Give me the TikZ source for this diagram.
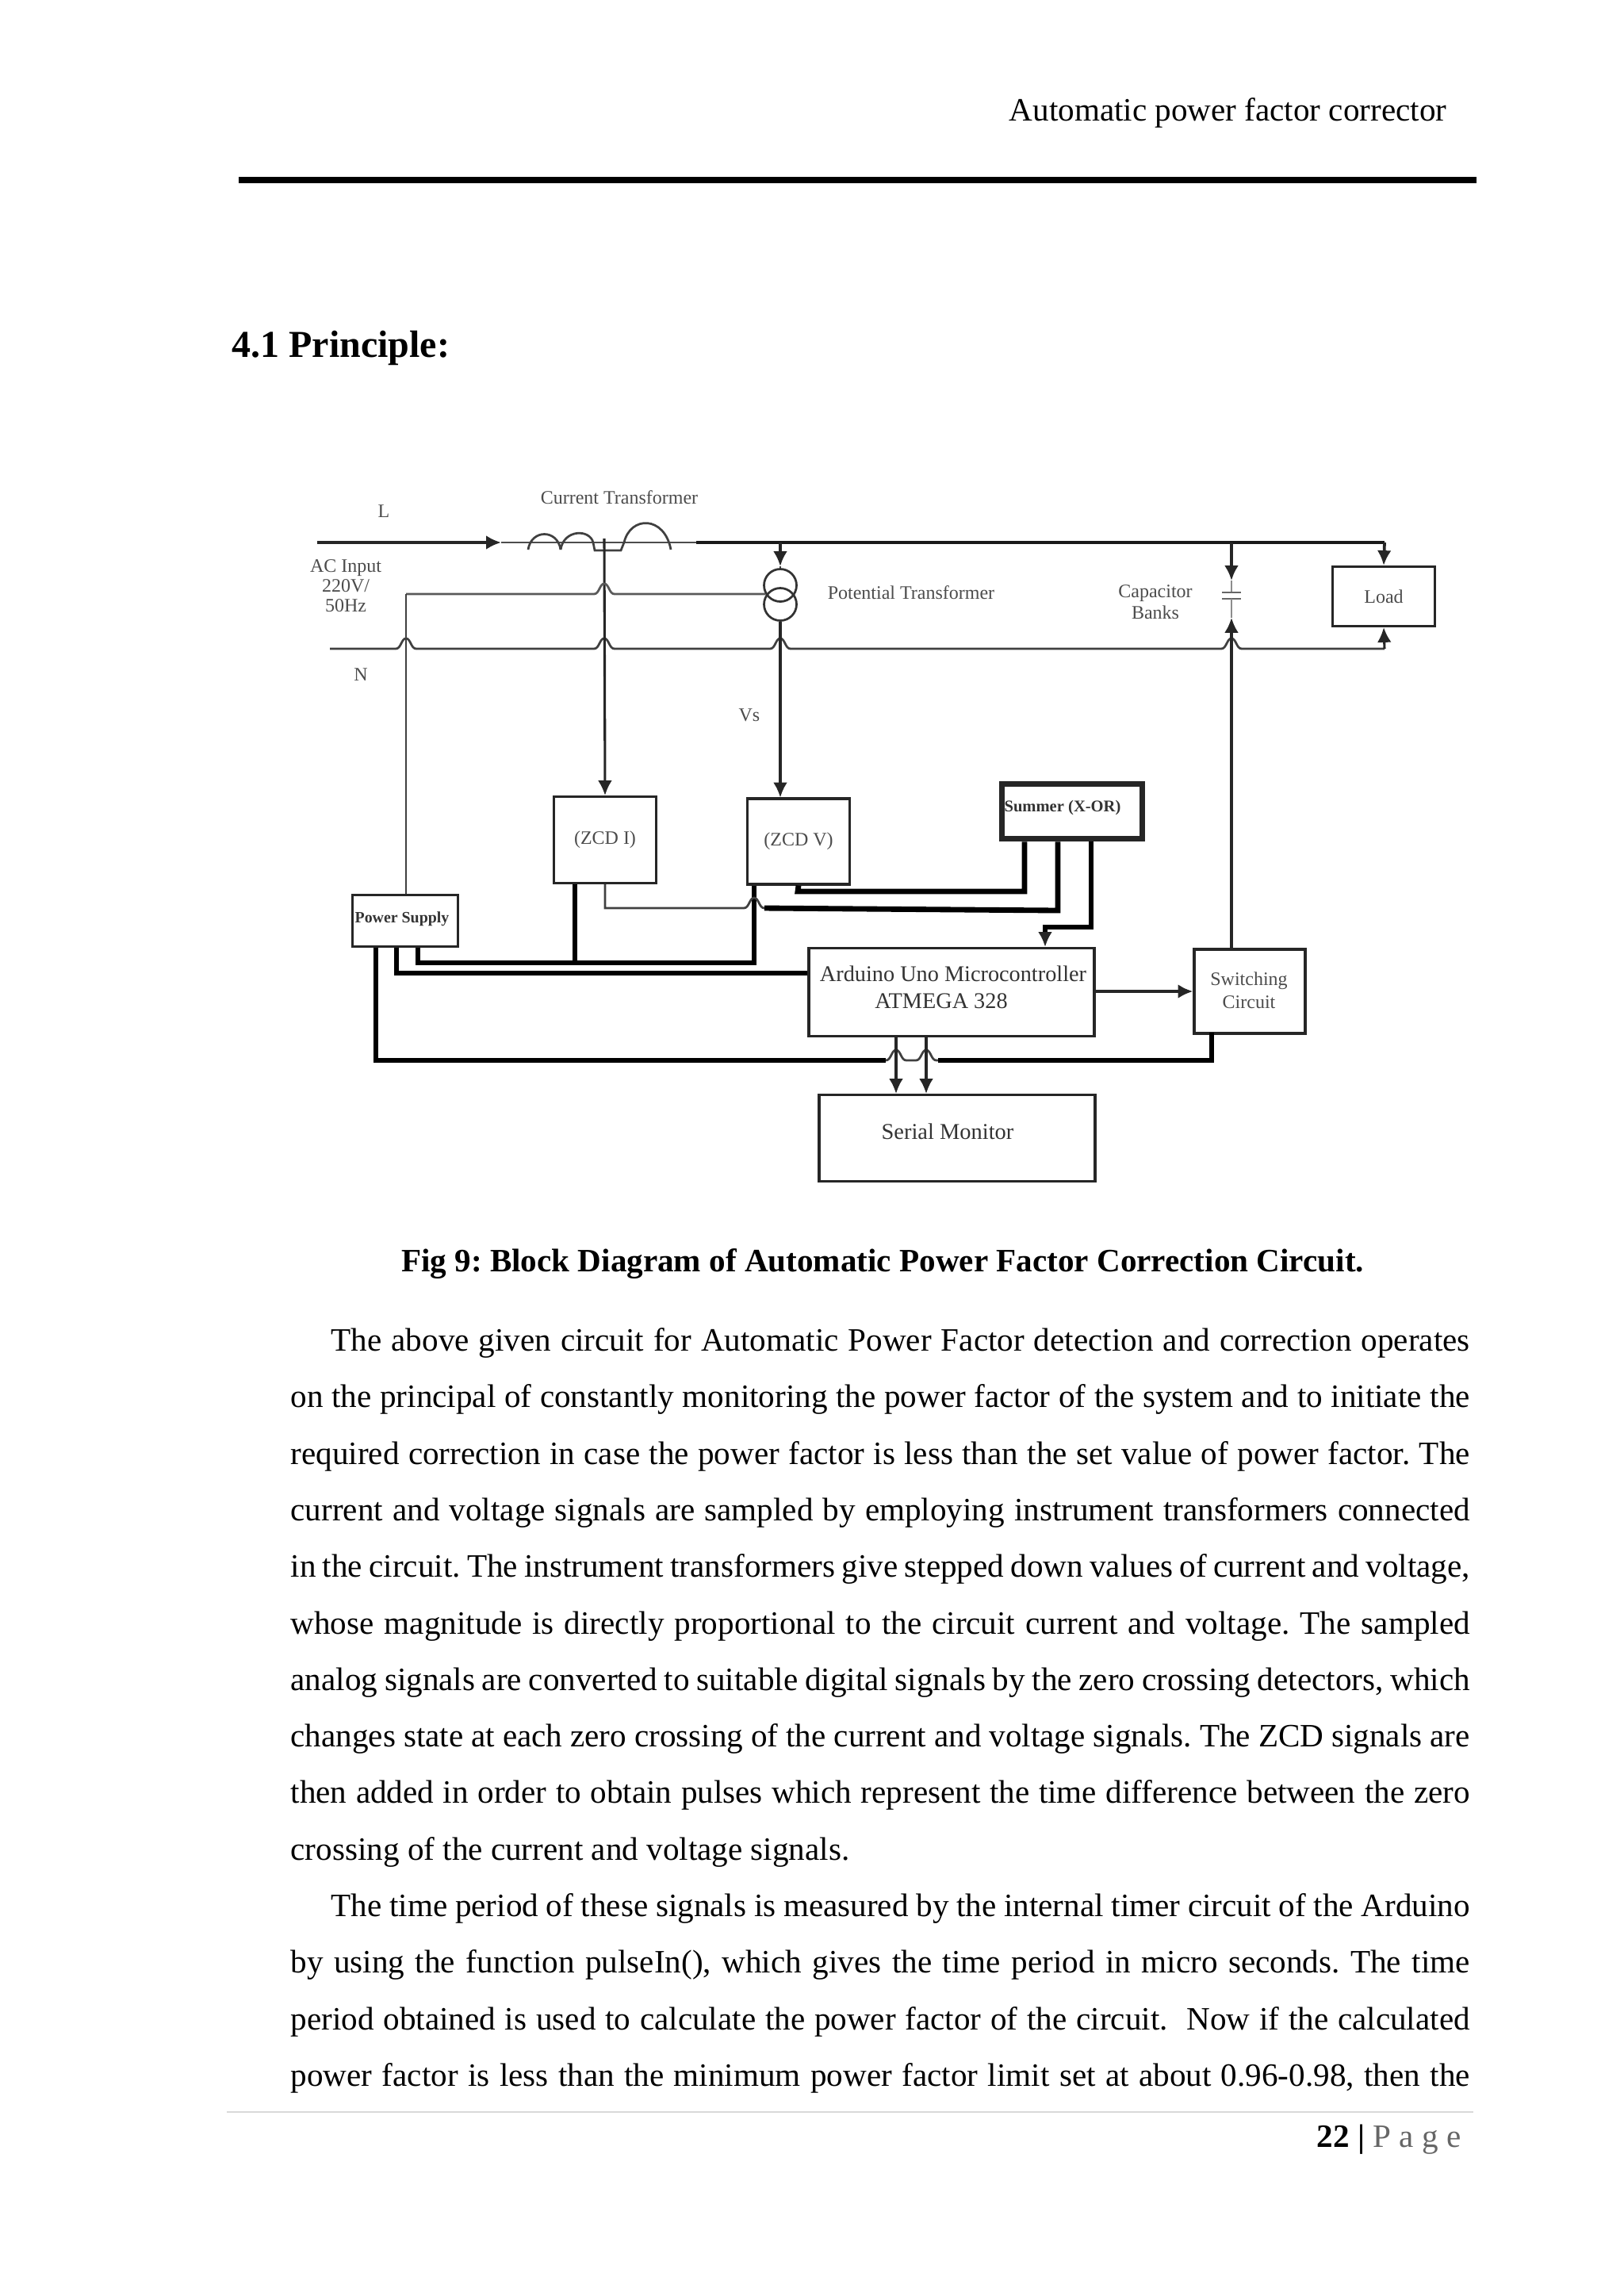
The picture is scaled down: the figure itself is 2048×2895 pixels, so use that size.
\documentclass[tikz,border=0pt]{standalone}
\usepackage{fontspec}
\setmainfont{Liberation Serif}
\usepackage{xcolor}
\usetikzlibrary{shapes,arrows,arrows.meta,positioning,fit,calc}
\definecolor{inkgray}{gray}{0.3}
\tikzstyle{block} = [draw=black!85, rectangle, line width=0.9pt, inner sep=0pt, text=inkgray, align=center, font=\fontsize{7}{9}\selectfont]
\tikzstyle{wire} = [draw=black!75, line width=0.8pt]
\tikzstyle{connector} = [-{Latex[length=5.5pt,width=5.2pt]}, black!85, line width=0.9pt]
\tikzstyle{bus} = [black, line width=2pt]
\tikzstyle{lbl} = [inner sep=0pt, text=inkgray, align=center, font=\fontsize{7}{7.3}\selectfont]
\tikzstyle{bodyline} = [anchor=base west, inner sep=0pt, font=\fontsize{12}{14}\selectfont]
\newcommand{\fullline}[1]{\makebox[432.2bp][s]{#1}}
\newcommand{\firstline}[1]{\makebox[417.4bp][s]{#1}}
% hop of one wire over another
\newcommand{\hop}[2]{-- ({#1-13},#2) .. controls ({#1-6},#2) and ({#1-6},{#2-13}) .. (#1,{#2-13}) .. controls ({#1+6},{#2-13}) and ({#1+6},#2) .. ({#1+13},#2)}

\begin{document}
\frenchspacing
\begin{tikzpicture}[x=0.29066bp, y=-0.29066bp]
	\useasboundingbox (0,0) rectangle (2048,2895);

	% page head
	\node[anchor=base east, inner sep=0pt, font=\fontsize{12}{14}\selectfont] (head) at (1825,152) {Automatic power factor corrector};
	\coordinate (ruleL) at (301,227);
	\coordinate (ruleR) at (1862,227);
	\draw[line width=2.2pt] (ruleL) -- (ruleR);
	\node[anchor=base west, inner sep=0pt, font=\bfseries\fontsize{14}{16}\selectfont] (sec) at (292,450) {4.1 Principle:};

	% blocks
	\node[block, minimum width=129bp*0.29066, minimum height=109bp*0.29066] (zcdi) at (763,1059) {(ZCD I)};
	\node[block, minimum width=129bp*0.29066, minimum height=108bp*0.29066] (zcdv) at (1007,1061) {(ZCD V)};
	\node[block, minimum width=133bp*0.29066, minimum height=65bp*0.29066, line width=0.7pt] (ps) at (511,1161) {};
	\node[lbl, font=\bfseries\fontsize{5.8}{7}\selectfont, text=black!80] (pstxt) at (507,1159) {Power Supply};
	\node[block, minimum width=177bp*0.29066, minimum height=69bp*0.29066, line width=2.2pt] (summer) at (1352,1023) {};
	\node[lbl, font=\bfseries\fontsize{6}{7}\selectfont, text=black!80] (sumtxt) at (1340,1019) {Summer (X-OR)};
	\node[block, minimum width=360bp*0.29066, minimum height=111bp*0.29066] (mcu) at (1200,1251) {};
	\node[lbl, font=\fontsize{8.25}{9}\selectfont, text=black!80] (mcu1) at (1202,1228) {Arduino Uno Microcontroller};
	\node[lbl, font=\fontsize{8.25}{9}\selectfont, text=black!80] (mcu2) at (1187,1262) {ATMEGA 328};
	\node[block, minimum width=140bp*0.29066, minimum height=106bp*0.29066] (sw) at (1576,1250) {};
	\node[lbl] (swtxt) at (1575,1249) {Switching\\[1.2pt]Circuit};
	\node[block, minimum width=348bp*0.29066, minimum height=109bp*0.29066] (mon) at (1207,1435) {};
	\node[lbl, font=\fontsize{8.3}{9}\selectfont, text=black!80] (montxt) at (1195,1427) {Serial Monitor};
	\node[block, minimum width=129bp*0.29066, minimum height=75bp*0.29066] (load) at (1745,752) {Load};

	% labels
	\node[lbl] (llbl) at (484,645) {L};
	\node[lbl] (nlbl) at (455,851) {N};
	\node[lbl] (ctlbl) at (781,627) {Current Transformer};
	\node[lbl] (aclbl) at (436,739) {AC Input\\220V/\\50Hz};
	\node[lbl] (ptlbl) at (1149,747) {Potential Transformer};
	\node[lbl] (caplbl) at (1457,759) {Capacitor\\[0.6pt]Banks};
	\node[lbl] (vslbl) at (945,902) {Vs};

	% mains
	\coordinate (lA) at (400,684);
	\coordinate (lB) at (632,684);
	\coordinate (lC) at (878,684);
	\coordinate (lD) at (1746,684);
	\coordinate (nA) at (416,818);
	\coordinate (ptA) at (512,749);
	\coordinate (ptB) at (965,749);
	\coordinate (cap) at (1553,684);
	\coordinate (vt) at (984,684);
	\draw[connector, line width=1.2pt] (lA) -- (lB);
	\draw[wire, black!70] (lB) -- (lC);
	\draw[line width=1.1pt, black!90] (lC) -- (lD);
	\draw[connector, line width=1.1pt] (lD) -- (load.north);
	\draw[connector, line width=1.1pt] (vt) -- ++(0,30) coordinate (vtB);
	\draw[connector, line width=1.1pt] (cap) -- ++(0,48) coordinate (capA);
	\draw[wire] (nA) \hop{512}{818} \hop{762}{818} \hop{984}{818} \hop{1553}{818} -- (1746,818) coordinate (nB);
	\draw[connector] (nB) -- (load.south);

	% current transformer
	\draw[wire] (666,693) .. controls (670,667) and (703,667) .. (707,693);
	\draw[wire] (707,693) .. controls (711,667) and (744,667) .. (748,684) -- (750,694) -- (783,694) -- (787,684) .. controls (795,650) and (838,650) .. (846,693);
	\coordinate (ctTap) at (762,679);
	\draw[connector] (ctTap) -- (zcdi.north);

	% potential transformer
	\node[draw=black!80, circle, minimum size=41bp*0.29066, inner sep=0pt, line width=0.8pt] (ptU) at (984,738) {};
	\node[draw=black!80, circle, minimum size=41bp*0.29066, inner sep=0pt, line width=0.8pt] (ptD) at (984,762) {};
	\draw[wire, black!65] (ptA) \hop{762}{749} -- (ptB);
	\draw[wire] (vtB) -- (ptU.north);
	\draw[connector] (ptD.south) -- (zcdv.north -| ptD.south);
	\draw[wire] (ptA) -- (ptA |- ps.north);

	% capacitor bank
	\coordinate (plateA) at (1553,747);
	\coordinate (plateB) at (1553,755);
	\draw[wire, black!45] (capA) -- (plateA);
	\draw[wire, black!60] (1541,747) -- (1565,747);
	\draw[wire, black!60] (1541,755) -- (1565,755);
	\draw[wire, black!45] (plateB) -- (1553,779);
	\draw[connector] (sw.north -| cap) -- (1553,779);

	% power supply buses
	\coordinate (ps1) at (527,1214);
	\coordinate (ps2) at (500,1227);
	\coordinate (ps3) at (474,1337);
	\coordinate (tee) at (725,1214);
	\coordinate (vbus) at (951,1214);
	\draw[bus] (ps.south -| ps1) -- (ps1) -- (vbus) -- (vbus |- zcdv.south);
	\draw[bus] (tee) -- (tee |- zcdi.south);
	\draw[bus] (ps.south -| ps2) -- (ps2) -- (ps2 -| mcu.west);
	\draw[bus] (ps.south -| ps3) -- (ps3) -- (1117,1337);
	\draw[wire] (1117,1337) \hop{1130}{1337} \hop{1168}{1337} -- (1183,1337);
	\draw[bus] (1183,1337) -- (1528,1337) -- (1528 ,1302);

	% signals to the summer
	\coordinate (iOut) at (763,1145);
	\coordinate (vOut) at (1006,1124);
	\coordinate (sumA) at (1292,1124);
	\coordinate (sumB) at (1334,1148);
	\coordinate (sumC) at (1376,1169);
	\coordinate (mcuIn) at (1318,1169);
	\draw[wire] (zcdi.south) -- (iOut) \hop{951}{1145} coordinate (iHop);
	\draw[bus] (iHop) -- (sumB) -- (sumB |- summer.south);
	\draw[bus] (zcdv.south) -- (vOut) -- (sumA) -- (sumA |- summer.south);
	\draw[bus] (sumC |- summer.south) -- (sumC) -- (mcuIn) -- ++(0,10) coordinate (mcuInB);
	\draw[connector, line width=1.1pt] (mcuInB) -- (mcuIn |- mcu.north);

	% outputs of the microcontroller
	\coordinate (serA) at (1130,1340);
	\coordinate (serB) at (1168,1340);
	\draw[connector, line width=1.1pt] (mcu.east |- sw.west) -- (sw.west);
	\draw[connector] (serA |- mcu.south) -- (serA |- mon.north);
	\draw[connector] (serB |- mcu.south) -- (serB |- mon.north);

	% caption
	\node[inner sep=0pt, anchor=base, font=\bfseries\fontsize{12}{14}\selectfont] (caption) at (1113,1603) {Fig 9: Block Diagram of Automatic Power Factor Correction Circuit.};

	% running text
	\node[bodyline] (t1) at (417,1703) {\firstline{The above given circuit for Automatic Power Factor detection and correction operates}};
	\node[bodyline] (t2) at (366,1774) {\fullline{on the principal of constantly monitoring the power factor of the system and to initiate the}};
	\node[bodyline] (t3) at (366,1846) {\fullline{required correction in case the power factor is less than the set value of power factor. The}};
	\node[bodyline] (t4) at (366,1917) {\fullline{current and voltage signals are sampled by employing instrument transformers connected}};
	\node[bodyline] (t5) at (366,1988) {\fullline{in the circuit. The instrument transformers give stepped down values of current and voltage,}};
	\node[bodyline] (t6) at (366,2060) {\fullline{whose magnitude is directly proportional to the circuit current and voltage. The sampled}};
	\node[bodyline] (t7) at (366,2131) {\fullline{analog signals are converted to suitable digital signals by the zero crossing detectors, which}};
	\node[bodyline] (t8) at (366,2202) {\fullline{changes state at each zero crossing of the current and voltage signals. The ZCD signals are}};
	\node[bodyline] (t9) at (366,2273) {\fullline{then added in order to obtain pulses which represent the time difference between the zero}};
	\node[bodyline] (t10) at (366,2345) {crossing of the current and voltage signals.};
	\node[bodyline] (t11) at (417,2416) {\firstline{The time period of these signals is measured by the internal timer circuit of the Arduino}};
	\node[bodyline] (t12) at (366,2487) {\fullline{by using the function pulseIn(), which gives the time period in micro seconds. The time}};
	\node[bodyline] (t13) at (366,2559) {\fullline{period obtained is used to calculate the power factor of the circuit.\ \ Now if the calculated}};
	\node[bodyline] (t14) at (366,2630) {\fullline{power factor is less than the minimum power factor limit set at about 0.96-0.98, then the}};

	% page foot
	\coordinate (footL) at (286,2663);
	\coordinate (footR) at (1858,2663);
	\draw[black!15, line width=0.6pt] (footL) -- (footR);
	\node[anchor=base east, inner sep=0pt, font=\fontsize{12}{14}\selectfont] (foot) at (1843,2707) {\textbf{22 |} \textcolor{black!60}{P a g e}};
\end{tikzpicture}
\end{document}
